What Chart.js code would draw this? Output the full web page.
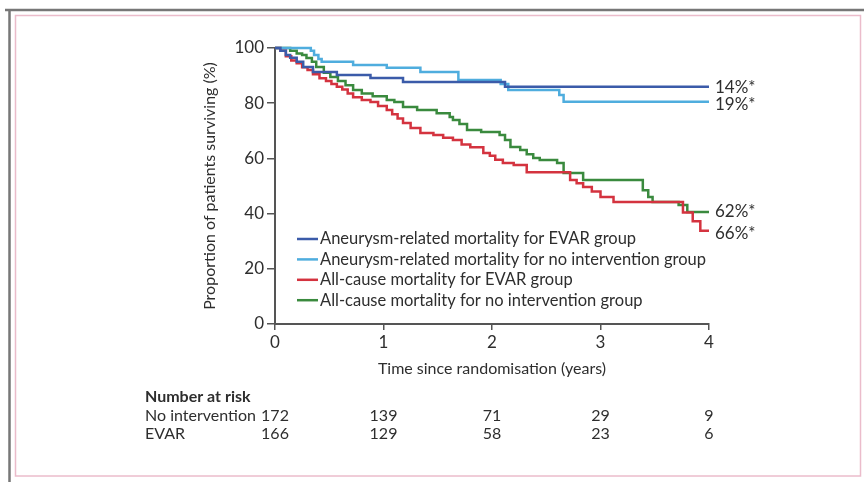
<!DOCTYPE html>
<html>
<head>
<meta charset="utf-8">
<script src="https://cdn.jsdelivr.net/npm/chart.js@4.4.1/dist/chart.umd.min.js"></script>
<style>
  html, body { margin: 0; padding: 0; background: #fff; }
  #chart { display: block; }
</style>
</head>
<body>
<canvas id="chart" width="864" height="482"></canvas>
<script>
// Kaplan-Meier curves (time in years, % surviving)
const evarAneurysmTime = [0, 0.05, 0.1, 0.14, 0.2, 0.26, 0.35, 0.57, 0.88, 1.18, 2.12, 4];
const evarAneurysmSurv = [100, 99, 97.5, 96.5, 95, 93.1, 91.3, 90.2, 89.1, 87.7, 86, 86];

const noIntAneurysmTime = [0, 0.33, 0.36, 0.4, 0.43, 0.72, 1.03, 1.34, 1.69, 2.08, 2.15, 2.62, 2.66, 4];
const noIntAneurysmSurv = [100, 99, 97.5, 96, 95, 93.8, 92.8, 91.3, 88.4, 87, 84.8, 83, 80.5, 80.5];

const evarAllCauseTime = [0, 0.05, 0.1, 0.15, 0.2, 0.25, 0.3, 0.35, 0.41, 0.47, 0.52, 0.57, 0.62, 0.67, 0.72, 0.8, 0.88, 0.95,
  1.03, 1.08, 1.13, 1.18, 1.25, 1.34, 1.46, 1.55, 1.64, 1.72, 1.8, 1.92, 1.98, 2.03, 2.1, 2.2, 2.32, 2.72, 2.78, 2.84,
  2.92, 3.0, 3.12, 3.76, 3.85, 3.92, 4];
const evarAllCauseSurv = [100, 99, 97, 95.5, 94.5, 93, 92, 90.5, 89, 88, 87, 86, 85, 83.5, 82.2, 81.2, 80.4, 79,
  77.5, 76, 74.5, 72.8, 71, 69.2, 68.5, 67.5, 66.7, 65, 64, 62, 61, 59.5, 58.3, 57.6, 55, 52.2, 51, 49.6,
  48, 46, 44.2, 40.4, 37.2, 33.8, 33.8];

const noIntAllCauseTime = [0, 0.14, 0.2, 0.25, 0.29, 0.34, 0.38, 0.45, 0.51, 0.58, 0.65, 0.72, 0.8, 0.9, 1.03, 1.1, 1.18,
  1.31, 1.49, 1.61, 1.64, 1.7, 1.77, 1.9, 2.07, 2.12, 2.17, 2.26, 2.32, 2.38, 2.44, 2.6, 2.66, 2.84, 3.39, 3.44,
  3.48, 3.72, 3.8, 4];
const noIntAllCauseSurv = [100, 99, 98, 97.5, 96.4, 95, 93.1, 91, 89.5, 88, 86.5, 84.8, 83.5, 82.5, 81.2, 80.4, 78.6,
  77.5, 76.4, 75, 73.9, 72.5, 70.3, 69.6, 68.5, 66.7, 64.1, 63, 61.5, 60.1, 59.4, 58.3, 54.7, 52.2, 48.5, 46,
  44.2, 43.1, 40.6, 40.6];

const seriesLabels = [
  'Aneurysm-related mortality for EVAR group',
  'Aneurysm-related mortality for no intervention group',
  'All-cause mortality for EVAR group',
  'All-cause mortality for no intervention group'
];
const endLabels = ['14%*', '19%*', '62%*', '66%*'];
const endLabelSeries = [0, 1, 3, 2];

// number at risk table
const riskTimes = [0, 1, 2, 3, 4];
const riskNoIntervention = [172, 139, 71, 29, 9];
const riskEvar = [166, 129, 58, 23, 6];

const colors = ['#3b5ba9', '#4fadde', '#d4333f', '#3a8a3e'];
const FONT = 'Lato';
const TEXT = '#2e2e2e';

function toPoints(times, surv) {
  return times.map((t, i) => ({ x: t, y: surv[i] }));
}

const seriesData = [
  toPoints(evarAneurysmTime, evarAneurysmSurv),
  toPoints(noIntAneurysmTime, noIntAneurysmSurv),
  toPoints(evarAllCauseTime, evarAllCauseSurv),
  toPoints(noIntAllCauseTime, noIntAllCauseSurv)
];

const framePlugin = {
  id: 'frame',
  beforeDraw(chart) {
    const ctx = chart.ctx;
    ctx.save();
    ctx.fillStyle = '#fff';
    ctx.fillRect(0, 0, chart.width, chart.height);
    // outer grey edge
    ctx.strokeStyle = '#777';
    ctx.lineWidth = 2.5;
    ctx.beginPath();
    ctx.moveTo(5, 10);
    ctx.lineTo(chart.width, 10);
    ctx.moveTo(9.5, 9);
    ctx.lineTo(9.5, chart.height);
    ctx.stroke();
    // pink inner border
    ctx.strokeStyle = '#ebbccb';
    ctx.lineWidth = 1.5;
    ctx.strokeRect(15.5, 15.5, 845, 460.5);
    ctx.restore();
  }
};

const extrasPlugin = {
  id: 'extras',
  afterDraw(chart) {
    const ctx = chart.ctx;
    const xs = chart.scales.x;
    const ys = chart.scales.y;
    const area = chart.chartArea;
    ctx.save();
    ctx.fillStyle = TEXT;
    ctx.textBaseline = 'middle';

    // legend inside plot
    const lx = 297, ly = 239, row = 20.4;
    chart.data.datasets.forEach((ds, i) => {
      const y = ly + i * row;
      ctx.strokeStyle = ds.borderColor;
      ctx.lineWidth = 2.5;
      ctx.beginPath();
      ctx.moveTo(lx, y);
      ctx.lineTo(lx + 21, y);
      ctx.stroke();
      ctx.font = '16.5px ' + FONT;
      ctx.textAlign = 'left';
      ctx.fillText(ds.label, lx + 23, y);
    });

    // end-of-curve labels
    const dy = [1, 3, 0, 3];
    ctx.font = '17px ' + FONT;
    endLabels.forEach((txt, i) => {
      const pts = seriesData[endLabelSeries[i]];
      const last = pts[pts.length - 1];
      ctx.fillText(txt, area.right + 6, ys.getPixelForValue(last.y) + dy[i]);
    });

    // number at risk
    ctx.font = 'bold 16px ' + FONT;
    ctx.fillText('Number at risk', 145, 397);
    ctx.font = '16px ' + FONT;
    ctx.fillText('No intervention', 145, 416);
    ctx.fillText('EVAR', 145, 434);
    ctx.textAlign = 'center';
    riskTimes.forEach((t, i) => {
      const px = xs.getPixelForValue(t);
      ctx.fillText(String(riskNoIntervention[i]), px, 416);
      ctx.fillText(String(riskEvar[i]), px, 434);
    });
    ctx.restore();
  }
};

new Chart(document.getElementById('chart'), {
  type: 'line',
  data: {
    datasets: seriesData.map((pts, i) => ({
      label: seriesLabels[i],
      data: pts,
      borderColor: colors[i],
      backgroundColor: colors[i],
      borderWidth: 2.5,
      pointRadius: 0,
      stepped: true,
      fill: false,
      clip: 4
    }))
  },
  options: {
    responsive: false,
    animation: false,
    events: [],
    layout: { padding: { left: 195, right: 155, top: 48, bottom: 102 } },
    plugins: {
      legend: { display: false },
      tooltip: { enabled: false }
    },
    scales: {
      x: {
        type: 'linear',
        min: 0,
        max: 4,
        afterFit(scale) { scale.height = 56; },
        ticks: { stepSize: 1, color: TEXT, padding: 2, font: { family: FONT, size: 17 } },
        grid: { drawOnChartArea: false, tickLength: 6, tickColor: '#555', lineWidth: 1.5 },
        border: { color: '#555', width: 2 },
        title: {
          display: true,
          text: 'Time since randomisation (years)',
          color: TEXT,
          font: { family: FONT, size: 16 },
          padding: { top: 0, bottom: 1.5 }
        }
      },
      y: {
        min: 0,
        max: 100,
        afterFit(scale) { scale.width = 80; },
        ticks: { stepSize: 20, color: TEXT, padding: 3, font: { family: FONT, size: 17 } },
        grid: { drawOnChartArea: false, tickLength: 8, tickColor: '#555', lineWidth: 1.5 },
        border: { color: '#555', width: 2 },
        title: {
          display: true,
          text: 'Proportion of patients surviving (%)',
          color: TEXT,
          font: { family: FONT, size: 16 },
          padding: { top: 5.5, bottom: 0 }
        }
      }
    }
  },
  plugins: [framePlugin, extrasPlugin]
});
</script>
</body>
</html>
